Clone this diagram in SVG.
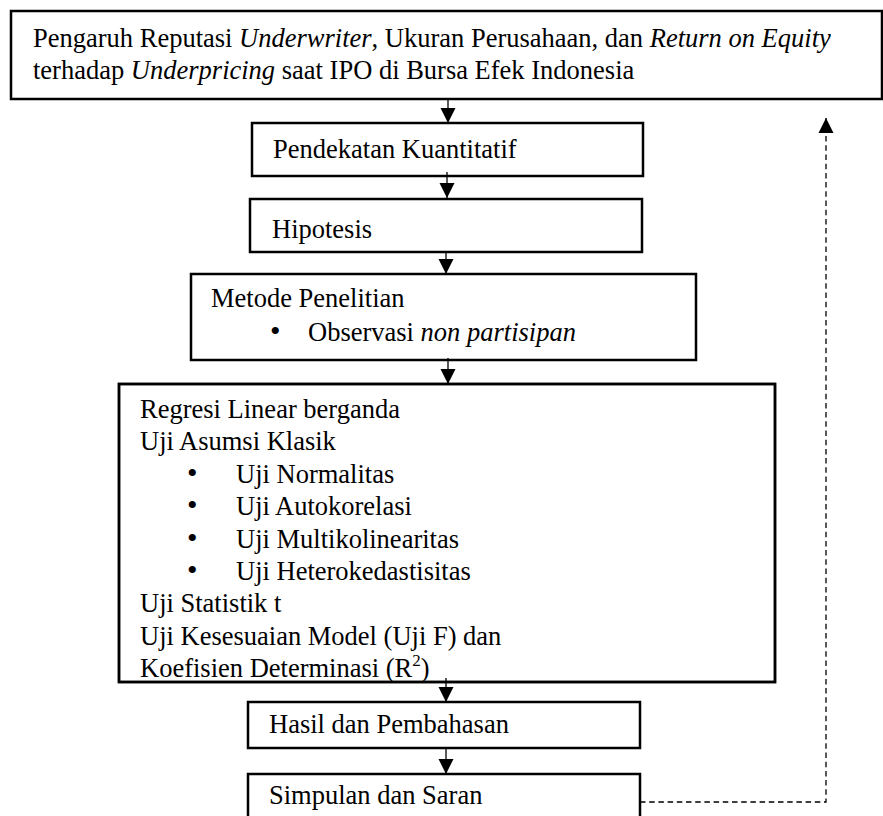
<svg xmlns="http://www.w3.org/2000/svg" width="883" height="816" viewBox="0 0 883 816">
<style>
.box{fill:#fff;stroke:#000;stroke-width:2.5}
.t{font-family:"Liberation Serif","Times New Roman",serif;font-size:26.5px;fill:#000}
.b{font-family:"Liberation Serif","Times New Roman",serif;font-size:30px;fill:#000}
.i{font-style:italic}
.c{stroke:#000;stroke-width:1.3;fill:none}
.d{stroke:#000;stroke-width:1.3;fill:none;stroke-dasharray:5.5 3.7}
</style>
<defs>
<marker id="ah" markerUnits="userSpaceOnUse" markerWidth="16" markerHeight="16" viewBox="0 0 16 16" refX="15" refY="8" orient="auto">
<path d="M0,0.5 L15,8 L0,15.5 Z" fill="#000"/>
</marker>
</defs>
<rect width="883" height="816" fill="#fff"/>
<g id="n-judul">
<rect class="box" x="11" y="11" width="871" height="88"/>
<text class="t" x="33" y="47">Pengaruh Reputasi <tspan class="i">Underwriter</tspan>, Ukuran Perusahaan, dan <tspan class="i">Return on Equity</tspan></text>
<text class="t" x="33" y="79">terhadap <tspan class="i">Underpricing</tspan> saat IPO di Bursa Efek Indonesia</text>
</g>
<g id="n-pendekatan">
<rect class="box" x="252" y="123" width="391" height="53"/>
<text class="t" x="273" y="158">Pendekatan Kuantitatif</text>
</g>
<g id="n-hipotesis">
<rect class="box" x="250" y="199" width="392" height="53"/>
<text class="t" x="272" y="238">Hipotesis</text>
</g>
<g id="n-metode">
<rect class="box" x="191" y="274" width="505" height="86"/>
<text class="t" x="211" y="307">Metode Penelitian</text>
<text class="b" x="270" y="341">•</text>
<text class="t" x="308" y="341">Observasi <tspan class="i">non partisipan</tspan></text>
</g>
<g id="n-analisis">
<rect class="box" x="119" y="384" width="656" height="298"/>
<text class="t" x="140" y="418">Regresi Linear berganda</text>
<text class="t" x="140" y="450">Uji Asumsi Klasik</text>
<text class="b" x="187" y="483">•</text>
<text class="t" x="236" y="483">Uji Normalitas</text>
<text class="b" x="187" y="515">•</text>
<text class="t" x="236" y="515">Uji Autokorelasi</text>
<text class="b" x="187" y="548">•</text>
<text class="t" x="236" y="548">Uji Multikolinearitas</text>
<text class="b" x="187" y="580">•</text>
<text class="t" x="236" y="580">Uji Heterokedastisitas</text>
<text class="t" x="140" y="612">Uji Statistik t</text>
<text class="t" x="140" y="645">Uji Kesesuaian Model (Uji F) dan</text>
<text class="t" x="140" y="677">Koefisien Determinasi (R<tspan font-size="17" dy="-11">2</tspan><tspan dy="11">)</tspan></text>
<rect x="119" y="384" width="656" height="298" fill="none" stroke="#000" stroke-width="2.5"/>
</g>
<g id="n-hasil">
<rect class="box" x="248" y="702" width="392" height="46"/>
<text class="t" x="269" y="733">Hasil dan Pembahasan</text>
</g>
<g id="n-simpulan">
<rect class="box" x="248" y="774" width="392" height="60"/>
<text class="t" x="269" y="804">Simpulan dan Saran</text>
</g>
<g id="connectors">
<line class="c" x1="448" y1="99" x2="448" y2="123" marker-end="url(#ah)"/>
<line class="c" x1="447" y1="172" x2="447" y2="198" marker-end="url(#ah)"/>
<line class="c" x1="446" y1="252" x2="446" y2="274" marker-end="url(#ah)"/>
<line class="c" x1="448" y1="358" x2="448" y2="384" marker-end="url(#ah)"/>
<line class="c" x1="446" y1="678" x2="446" y2="702" marker-end="url(#ah)"/>
<line class="c" x1="446" y1="748" x2="446" y2="774" marker-end="url(#ah)"/>
<path class="d" d="M640,802 H826 V118" marker-end="url(#ah)"/>
</g>
</svg>
